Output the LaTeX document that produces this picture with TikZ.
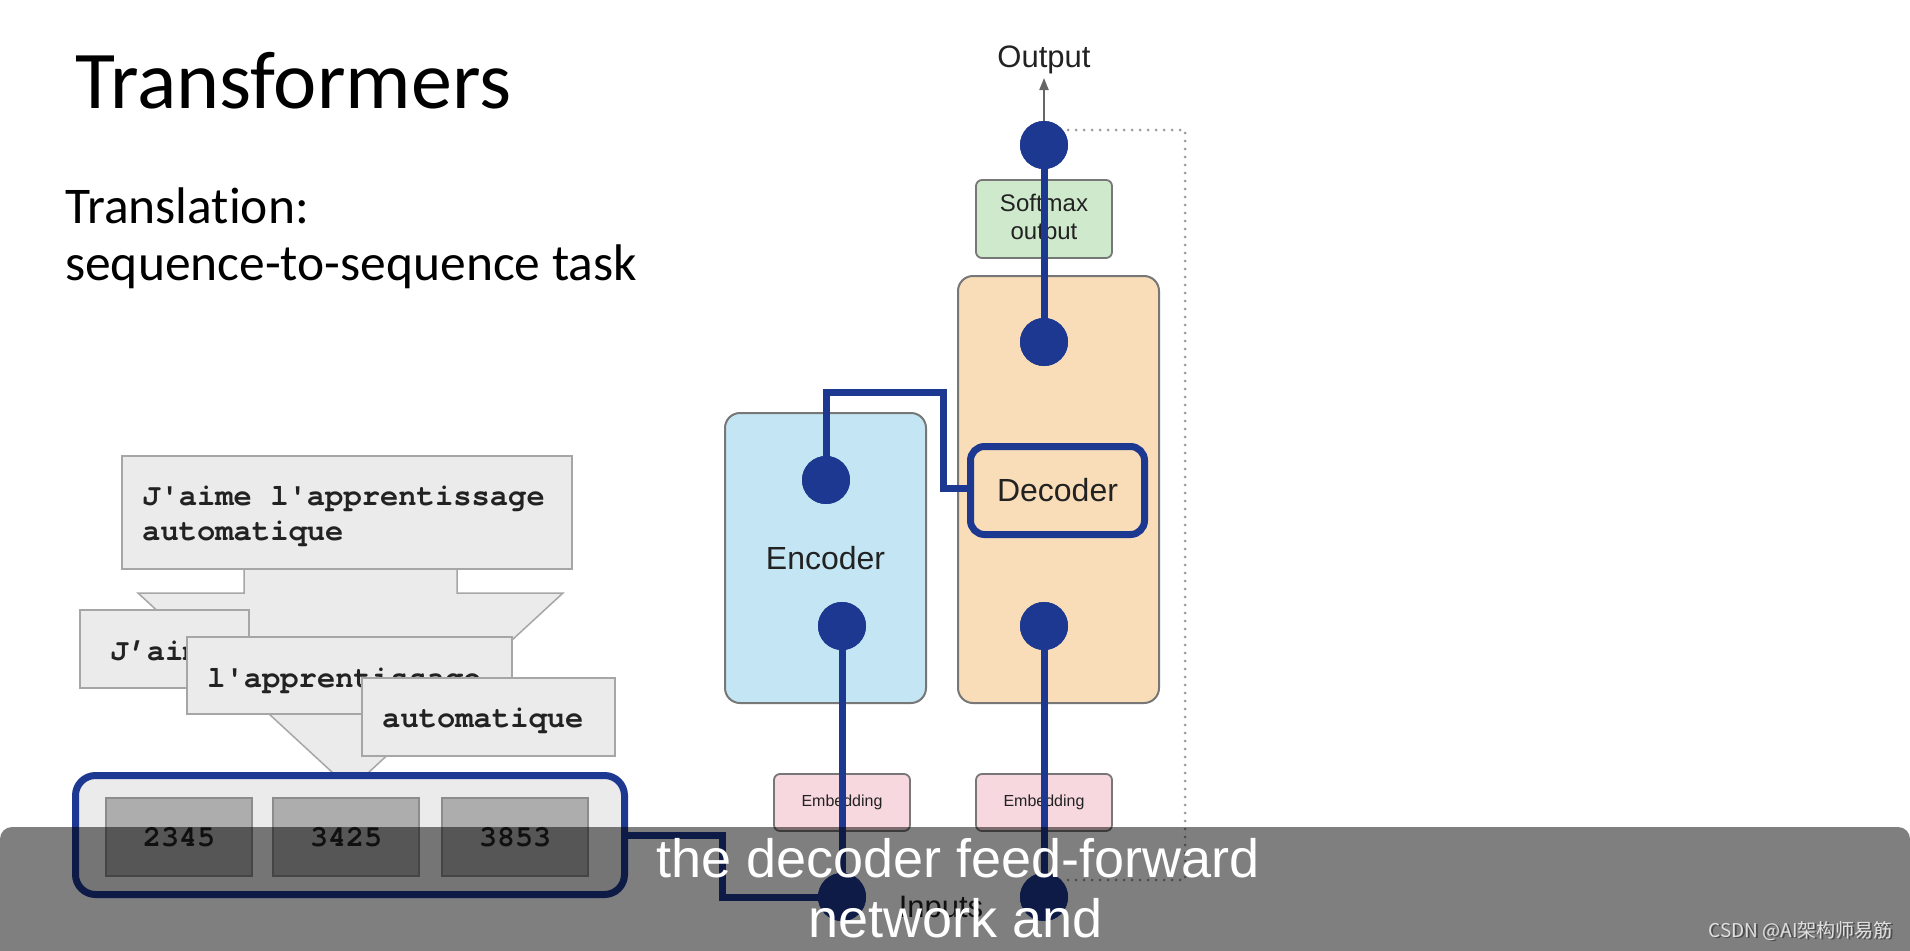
\documentclass[tikz,border=0pt]{standalone}
\usepackage{fontspec}
\setmainfont{Liberation Sans}
\newfontfamily\slidefont[Ligatures={NoCommon,NoContextual}]{Carlito}
\newfontfamily\codefont{TeX Gyre Cursor}
\newfontfamily\cjkfont{Noto Sans CJK SC}
\usetikzlibrary{arrows.meta}
\definecolor{navy}{HTML}{1D3890}
\definecolor{boxfill}{HTML}{EBEBEB}
\definecolor{boxline}{HTML}{A6A6A6}
\definecolor{numfill}{HTML}{ADADAD}
\definecolor{numline}{HTML}{8C8C8C}
\definecolor{encfill}{HTML}{C4E6F4}
\definecolor{decfill}{HTML}{F9DDB8}
\definecolor{smfill}{HTML}{CFE9CC}
\definecolor{embfill}{HTML}{F7D8DF}
\definecolor{frameline}{HTML}{777777}
\definecolor{dotgray}{HTML}{9A9A9A}
\definecolor{arrowgray}{HTML}{666666}
\definecolor{inktext}{HTML}{222222}
\begin{document}
\begin{tikzpicture}[x=1pt,y=-1pt,
  graybox/.style={draw=boxline, fill=boxfill, line width=1.5, inner sep=0},
  codetext/.style={anchor=base west, inner sep=0, text=inktext, font=\codefont\bfseries\fontsize{30.5}{35}\selectfont},
  numbox/.style={draw=numline, fill=numfill, line width=1.5, inner sep=0, minimum width=146, minimum height=78, text=inktext, font=\codefont\bfseries\fontsize{30}{36}\selectfont},
  bigblock/.style={draw=frameline, line width=2, rounded corners=15, inner sep=0, minimum width=201},
  smallblock/.style={draw=frameline, line width=1.8, rounded corners=6, inner sep=0, minimum width=136},
  dot/.style={circle, fill=navy, inner sep=0, minimum size=48},
  blueline/.style={draw=navy, line width=7, line join=miter},
  dotline/.style={draw=dotgray, line width=3, line cap=round, dash pattern=on 0pt off 8pt},
  sanslabel/.style={inner sep=0, text=inktext, font=\fontsize{32}{38}\selectfont},
  captext/.style={anchor=base, inner sep=0, text=white, font=\fontsize{54}{60}\selectfont}
]
\useasboundingbox (0,0) rectangle (1910,950);
\fill[white] (0,0) rectangle (1910,950);

% titles
\node[anchor=base west, inner sep=0, font=\slidefont\fontsize{82}{96}\selectfont] (title) at (75,108) {Transformers};
\node[anchor=base west, inner sep=0, font=\slidefont\fontsize{51.5}{60}\selectfont] (sub1) at (65,223) {Translation:};
\node[anchor=base west, inner sep=0, font=\slidefont\fontsize{51.5}{60}\selectfont] (sub2) at (65,280) {sequence-to-sequence task};

% funnel
\filldraw[draw=boxline, fill=boxfill, line width=1.5] (244,569) -- (244,593) -- (138,593) -- (333,773) -- (368,773) -- (563,593) -- (457,593) -- (457,569);
\node[graybox, minimum width=450, minimum height=113] (sentence) at (347,512.5) {};
\node[codetext] (sentl1) at (142,505) {J'aime l'apprentissage};
\node[codetext] (sentl2) at (142,540) {automatique};
\node[graybox, minimum width=169, minimum height=78] (tok1) at (164.5,649) {};
\node[codetext] (tok1t) at (110,660) {J’aime};
\node[graybox, minimum width=325, minimum height=77] (tok2) at (349.5,675.5) {};
\node[codetext] (tok2t) at (207,687) {l'apprentissage};
\node[graybox, minimum width=253, minimum height=78] (tok3) at (488.5,717) {};
\node[codetext] (tok3t) at (382,727) {automatique};

% token ids
\node[draw=navy, line width=7, fill=boxfill, rounded corners=20, inner sep=0, minimum width=549, minimum height=119] (ids) at (350,835) {};
\node[numbox] (id1) at (179,837) {2345};
\node[numbox] (id2) at (346,837) {3425};
\node[numbox] (id3) at (515,837) {3853};

% transformer blocks
\node[bigblock, fill=decfill, minimum height=427] (decoder) at (1058.5,489.5) {};
\node[bigblock, fill=encfill, minimum height=290, sanslabel] (encoder) at (825.5,558) {Encoder};
\node[draw=navy, line width=7, fill=decfill, rounded corners=14, inner sep=0, minimum width=174, minimum height=88, sanslabel] (decin) at (1057.5,490.5) {Decoder};
\node[smallblock, fill=smfill, minimum height=78, align=center, text=inktext, font=\fontsize{24}{28}\selectfont] (softmax) at (1044,219) {Softmax\\output};
\node[smallblock, fill=embfill, minimum height=57, text=inktext, font=\fontsize{16}{19}\selectfont] (emb1) at (842,802.5) {Embedding};
\node[smallblock, fill=embfill, minimum height=57, text=inktext, font=\fontsize{16}{19}\selectfont] (emb2) at (1044,802.5) {Embedding};

% helper coordinates
\coordinate (d1) at (1185,130);
\coordinate (d2) at (1185,880);
\coordinate (j1) at (943,392);
\coordinate (j2) at (943,488);
\coordinate (j3) at (722,866);

\node[dot] (topc) at (1044,145) {};
\node[dot] (dectop) at (1044,342) {};
\node[dot] (enctop) at (826,480) {};
\node[dot] (encbot) at (842,626) {};
\node[dot] (decbot) at (1044,626) {};
\node[dot] (inc1) at (842,897) {};
\node[dot] (inc2) at (1044,897) {};

% dotted loop
\draw[dotline] (topc.center |- d1) -- (d1) -- (d2) -- (inc2.center |- d2);

% blue connectors
\draw[blueline] (topc.center) -- (dectop.center);
\draw[blueline] (enctop.center) |- (j1) -- (j2) -- (j2 -| decin.west);
\draw[blueline] (encbot.center) -- (inc1.center);
\draw[blueline] (decbot.center) -- (inc2.center);
\draw[blueline] (ids.east) -| (j3) |- (inc1.center);

% circles on top of the lines
\foreach \p in {topc,dectop,enctop,encbot,decbot,inc1,inc2}{\fill[navy] (\p.center) circle[radius=24];}

% output arrow
\coordinate (arrtip) at (1044,78);
\draw[draw=arrowgray, line width=2, -{Triangle[length=12, width=9]}] (topc.north) -- (arrtip);
\node[sanslabel, anchor=base, font=\fontsize{31}{37}\selectfont] (outlbl) at (1044,67) {Output};
\node[sanslabel, anchor=base, font=\fontsize{31}{37}\selectfont] (inlbl) at (941,917) {Inputs};

% caption band
\fill[black, opacity=0.5, rounded corners=12] (0,827) rectangle (1910,1000);
\node[captext] (cap1) at (958,877) {the decoder feed-forward};
\node[captext] (cap2) at (956,937) {network and};
\node[anchor=base east, inner sep=0, text=black!70, font=\cjkfont\fontsize{19}{22}\selectfont] (wm0) at (1894.5,938.5) {CSDN @AI架构师易筋};
\node[anchor=base east, inner sep=0, text=black!12, font=\cjkfont\fontsize{19}{22}\selectfont] (wm) at (1893,937) {CSDN @AI架构师易筋};
\end{tikzpicture}
\end{document}
